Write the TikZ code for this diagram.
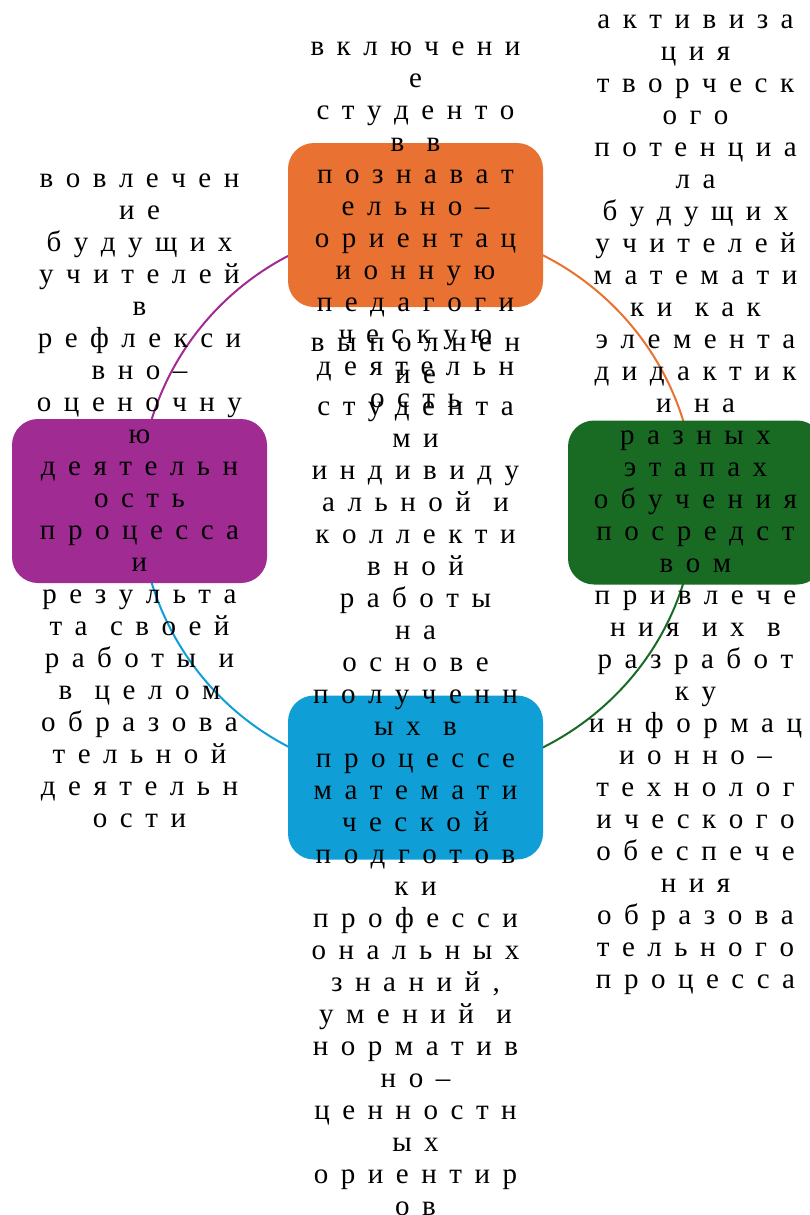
\documentclass[tikz,border=0pt]{standalone}
\usepackage{fontspec}
\setmainfont{Liberation Serif}
\usetikzlibrary{backgrounds}
\definecolor{boxorange}{HTML}{E97132}
\definecolor{boxpurple}{HTML}{A02B93}
\definecolor{boxgreen}{HTML}{196B24}
\definecolor{boxblue}{HTML}{0F9ED5}

% one line of letter-spaced text (~ stands for a word space)
\newlength\splgap
\setlength\splgap{12.5pt}
\newcommand\spl[1]{\mbox{\rule[-10pt]{0pt}{32pt}\hspace{-\splgap}\splnext#1\relax}}
\def\splnext#1{\ifx#1\relax\else\ifx#1~\hspace{10pt}\else\hspace{\splgap}#1\fi\expandafter\splnext\fi}

\begin{document}
\begin{tikzpicture}[x=1pt, y=1pt,
    stagebox/.style={rounded corners=26pt, minimum width=255pt, minimum height=164pt, inner sep=0pt},
    stagetext/.style={align=center, inner sep=0pt, text=black, font=\fontsize{29}{32}\selectfont},
    cyclearc/.style={line width=2pt}
]
\useasboundingbox (0,0) rectangle (810,-1215);

\node[stagebox, fill=boxorange] (cognitive) at (415.5,-225) {};
\node[stagebox, fill=boxpurple] (reflexive) at (139.5,-501) {};
\node[stagebox, fill=boxgreen] (creative) at (695.5,-502.5) {};
\node[stagebox, fill=boxblue] (practice) at (415.5,-777.5) {};

% arcs of the cycle, under the boxes
\begin{scope}[on background layer]
\draw[cyclearc, boxorange] (cognitive.center) to[out=0,in=90] (creative.center);
\draw[cyclearc, boxgreen] (creative.center) to[out=270,in=0] (practice.center);
\draw[cyclearc, boxblue] (practice.center) to[out=180,in=270] (reflexive.center);
\draw[cyclearc, boxpurple] (reflexive.center) to[out=90,in=180] (cognitive.center);
\end{scope}

\node[stagetext] (cognitivetxt) at (cognitive) {\spl{включени}\\ \spl{е}\\ \spl{студенто}\\ \spl{в~в}\\
  \spl{познават}\\ \spl{ельно–}\\ \spl{ориентац}\\ \spl{ионную}\\ \spl{педагоги}\\ \spl{ческую}\\
  \spl{деятельн}\\ \spl{ость}};

\node[stagetext] (reflexivetxt) at (reflexive) {\spl{вовлечен}\\ \spl{ие}\\ \spl{будущих}\\ \spl{учителей}\\
  \spl{в}\\ \spl{рефлекси}\\ \spl{вно–}\\ \spl{оценочну}\\ \spl{ю}\\ \spl{деятельн}\\ \spl{ость}\\
  \spl{процесса}\\ \spl{и}\\ \spl{результа}\\ \spl{та~своей}\\ \spl{работы~и}\\ \spl{в~целом}\\
  \spl{образова}\\ \spl{тельной}\\ \spl{деятельн}\\ \spl{ости}};

\node[stagetext] (creativetxt) at (creative) {\spl{активиза}\\ \spl{ция}\\ \spl{творческ}\\ \spl{ого}\\
  \spl{потенциа}\\ \spl{ла}\\ \spl{будущих}\\ \spl{учителей}\\ \spl{математи}\\ \spl{ки~как}\\
  \spl{элемента}\\ \spl{дидактик}\\ \spl{и~на}\\ \spl{разных}\\ \spl{этапах}\\ \spl{обучения}\\
  \spl{посредст}\\ \spl{вом}\\ \spl{привлече}\\ \spl{ния~их~в}\\ \spl{разработ}\\ \spl{ку}\\
  \spl{информац}\\ \spl{ионно–}\\ \spl{технолог}\\ \spl{ического}\\ \spl{обеспече}\\ \spl{ния}\\
  \spl{образова}\\ \spl{тельного}\\ \spl{процесса}};

\node[stagetext] (practicetxt) at (practice) {\spl{выполнен}\\ \spl{ие}\\ \spl{студента}\\ \spl{ми}\\
  \spl{индивиду}\\ \spl{альной~и}\\ \spl{коллекти}\\ \spl{вной}\\ \spl{работы}\\ \spl{на}\\
  \spl{основе}\\ \spl{полученн}\\ \spl{ых~в}\\ \spl{процессе}\\ \spl{математи}\\ \spl{ческой}\\
  \spl{подготов}\\ \spl{ки}\\ \spl{професси}\\ \spl{ональных}\\ \spl{знаний,}\\ \spl{умений~и}\\
  \spl{норматив}\\ \spl{но–}\\ \spl{ценностн}\\ \spl{ых}\\ \spl{ориентир}\\ \spl{ов}};
\end{tikzpicture}
\end{document}
